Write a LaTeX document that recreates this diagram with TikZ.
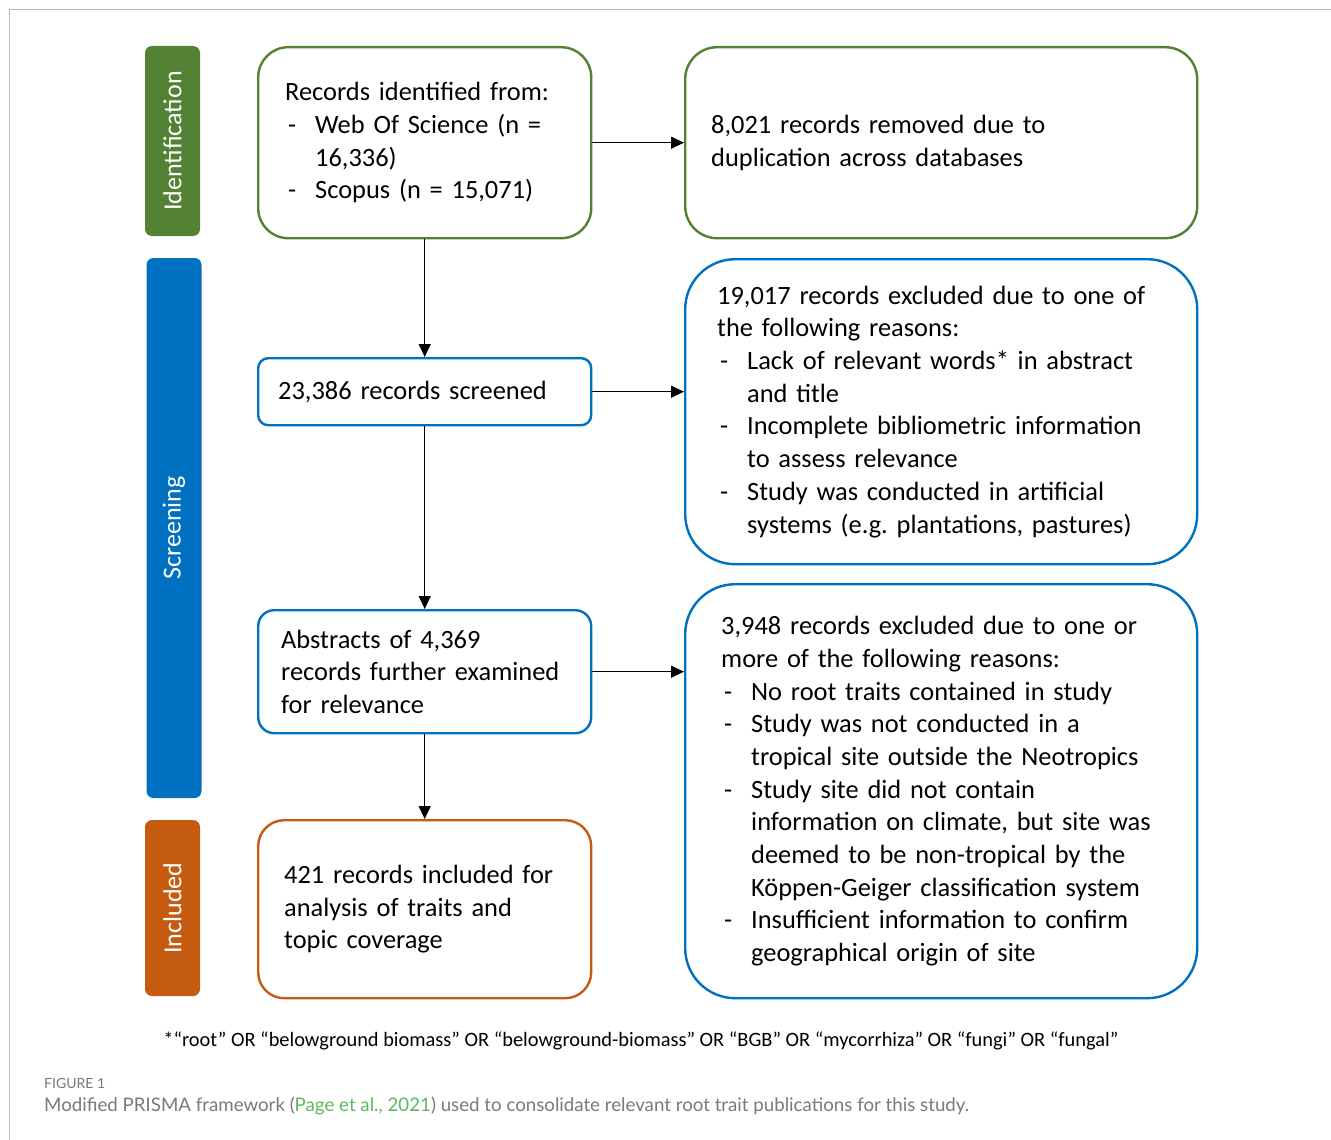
\documentclass[tikz,border=0pt]{standalone}
\usepackage{fontspec}
\setmainfont{Carlito}
\newfontfamily\capfont{Lato}
\usetikzlibrary{arrows.meta}
\definecolor{cgreen}{HTML}{548235}
\definecolor{cblue}{HTML}{0070C0}
\definecolor{corange}{HTML}{C55A11}
\definecolor{clink}{HTML}{5CB85C}
\definecolor{cgray}{HTML}{7A7A7A}
\frenchspacing
\newcommand{\itmA}[1]{\hspace*{3pt}\makebox[27pt][l]{-}#1}
\newcommand{\itmB}[1]{\hspace*{30pt}#1}
\tikzset{
  box/.style={draw, line width=2.4pt, align=left, inner ysep=0pt,
    font=\fontsize{26.4}{32.7}\selectfont, anchor=north west},
  gbox/.style={box, draw=cgreen},
  bbox/.style={box, draw=cblue},
  obox/.style={box, draw=corange},
  bar/.style={fill=#1, rounded corners=7pt, rotate=90, text=white,
    font=\fontsize{26}{30}\selectfont, inner sep=0pt, minimum height=55pt},
  arr/.style={-{Triangle[width=12pt,length=13pt]}, line width=1.3pt, black},
}
\begin{document}
\begin{tikzpicture}[x=1pt,y=-1pt]
\useasboundingbox (0,0) rectangle (1331,1140);
\fill[white] (0,0) rectangle (1331,1140);
\draw[black!28, line width=1.6pt] (9.5,1140) -- (9.5,9.5) -- (1331,9.5);

% stage bars
\node[bar=cgreen, minimum width=190pt] (idb) at (172.5,141) {Identification};
\node[bar=cblue, minimum width=540pt] (scb) at (174,528) {Screening};
\node[bar=corange, minimum width=176pt] (inb) at (172.5,908) {Included};

% boxes
\node[gbox, rounded corners=30pt, text width=279pt, inner xsep=27pt, minimum height=191pt] (b1) at (257,46)
 {Records identified from:\\ \itmA{Web Of Science (n =}\\ \itmB{16,336)}\\ \itmA{Scopus (n = 15,071)}};
\node[gbox, rounded corners=32pt, text width=460pt, inner xsep=26pt, minimum height=191pt] (b2) at (684,46)
 {8,021 records removed due to\\ duplication across databases};
\node[bbox, rounded corners=10pt, text width=293pt, inner xsep=20pt, minimum height=67pt] (b3) at (257,357)
 {23,386 records screened};
\node[bbox, rounded corners=50pt, text width=448pt, inner xsep=32pt, minimum height=305pt] (b4) at (684,258)
 {19,017 records excluded due to one of\\ the following reasons:\\
  \itmA{Lack of relevant words* in abstract}\\ \itmB{and title}\\
  \itmA{Incomplete bibliometric information}\\ \itmB{to assess relevance}\\
  \itmA{Study was conducted in artificial}\\ \itmB{systems (e.g. plantations, pastures)}};
\node[bbox, rounded corners=16pt, text width=287pt, inner xsep=23pt, minimum height=123pt] (b5) at (257,609)
 {Abstracts of 4,369\\ records further examined\\ for relevance};
\node[bbox, rounded corners=50pt, text width=440pt, inner xsep=36pt, minimum height=414pt] (b6) at (684,583)
 {3,948 records excluded due to one or\\ more of the following reasons:\\
  \itmA{No root traits contained in study}\\
  \itmA{Study was not conducted in a}\\ \itmB{tropical site outside the Neotropics}\\
  \itmA{Study site did not contain}\\ \itmB{information on climate, but site was}\\
  \itmB{deemed to be non-tropical by the}\\ \itmB{Köppen-Geiger classification system}\\
  \itmA{Insufficient information to confirm}\\ \itmB{geographical origin of site}};
\node[obox, rounded corners=26pt, text width=281pt, inner xsep=26pt, minimum height=178pt] (b7) at (257,819)
 {421 records included for\\ analysis of traits and\\ topic coverage};

% connectors
\draw[arr] (b1.east) -- (b2.west);
\draw[arr] (b1.south) -- (b3.north);
\draw[arr] (b3.east) -- (b3.east -| b4.west);
\draw[arr] (b3.south) -- (b5.north);
\draw[arr] (b5.east) -- (b5.east -| b6.west);
\draw[arr] (b5.south) -- (b7.north);

% footnote and caption
\node[font=\fontsize{20.4}{24}\selectfont, inner sep=0pt] (fn) at (641,1041)
 {*“root” OR “belowground biomass” OR “belowground-biomass” OR “BGB” OR “mycorrhiza” OR “fungi” OR “fungal”};
\node[font=\capfont\fontsize{14}{16}\selectfont, text=cgray, anchor=west, inner sep=0pt] (fig) at (44,1083) {FIGURE 1};
\node[font=\capfont\fontsize{18.7}{22}\selectfont, text=cgray, anchor=west, inner sep=0pt] (cap) at (44,1106)
 {Modified PRISMA framework (\textcolor{clink}{Page et al., 2021}) used to consolidate relevant root trait publications for this study.};
\end{tikzpicture}
\end{document}
